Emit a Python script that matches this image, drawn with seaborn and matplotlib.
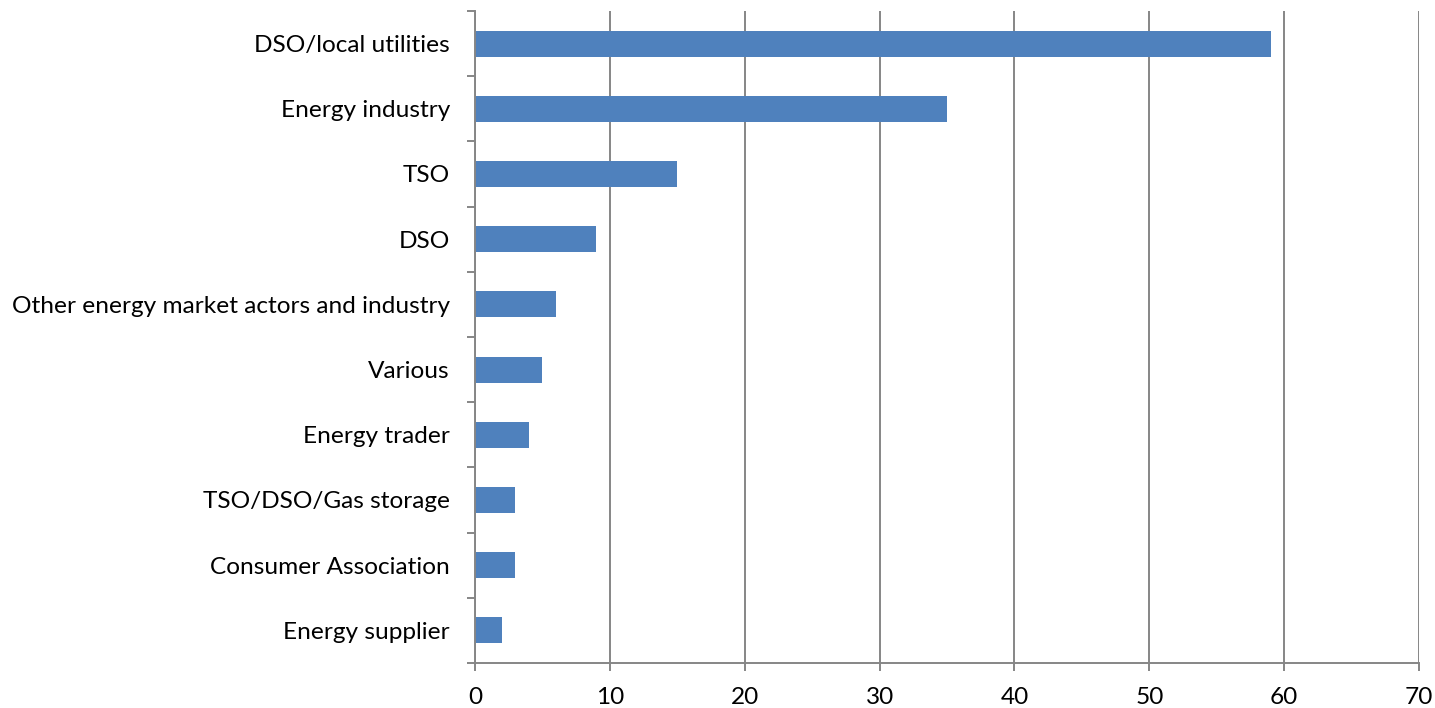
import matplotlib
matplotlib.use("Agg")
import matplotlib.pyplot as plt
import seaborn as sns
import pandas as pd
import numpy as np

categories = ["DSO/local utilities", "Energy industry", "TSO", "DSO",
              "Other energy market actors and industry", "Various", "Energy trader",
              "TSO/DSO/Gas storage", "Consumer Association", "Energy supplier"]
values = [59, 35, 15, 9, 6, 5, 4, 3, 3, 2]
x_ticks = [0, 10, 20, 30, 40, 50, 60, 70]

sns.set_theme(style="white")
plt.rcParams['font.family'] = ['Lato', 'DejaVu Sans']

df = pd.DataFrame({"category": categories, "value": values})

fig = plt.figure(figsize=(14.35, 7.08), dpi=100)
ax = fig.add_axes([0.331, 0.0636, 0.9889 - 0.331, 0.9845 - 0.0636])

grid_col = "#868686"
sns.barplot(data=df, y="category", x="value", order=categories, color="#4F81BD",
            saturation=1, width=0.4, ax=ax, zorder=3, edgecolor="none", linewidth=0)

ax.set_xlim(0, 70)
ax.set_ylim(len(categories) - 0.5, -0.5)
ax.set_xticks(x_ticks)
ax.set_xticklabels([str(t) for t in x_ticks])
ax.xaxis.grid(True, color=grid_col, linewidth=1.4, zorder=0)
ax.yaxis.grid(False)
ax.set_axisbelow(True)
ax.set_xlabel("")
ax.set_ylabel("")

for s in ["top", "right"]:
    ax.spines[s].set_visible(False)
for s in ["left", "bottom"]:
    ax.spines[s].set_color(grid_col)
    ax.spines[s].set_linewidth(1.4)
    ax.spines[s].set_zorder(5)

ax.set_yticks(np.arange(-0.5, len(categories) + 0.5, 1), minor=True)
ax.tick_params(axis="y", which="major", left=False, length=0, pad=18, labelsize=17.6,
               labelcolor="black")
ax.tick_params(axis="y", which="minor", left=True, length=6, width=1.4, color=grid_col,
               direction="out")
ax.tick_params(axis="x", which="major", bottom=True, length=6, width=1.4, color=grid_col,
               direction="out", pad=11, labelsize=17.6, labelcolor="black")

fig.savefig("out.png", dpi=100)
